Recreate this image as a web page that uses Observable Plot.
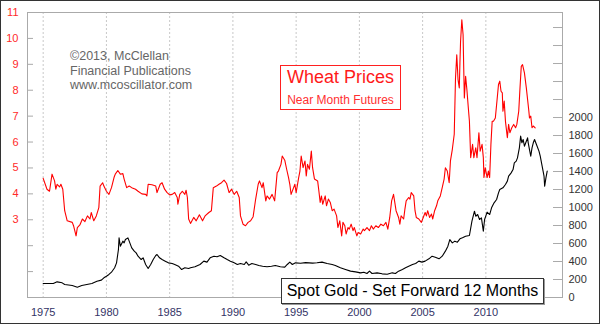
<!DOCTYPE html>
<html>
<head>
<meta charset="utf-8">
<script src="https://cdn.jsdelivr.net/npm/d3@7"></script>
<script src="https://cdn.jsdelivr.net/npm/@observablehq/plot@0.6"></script>
<style>
  html, body { margin: 0; padding: 0; background: white; }
  #wrap { position: relative; width: 600px; height: 324px; overflow: hidden; font-family: "Liberation Sans", Arial, sans-serif; }
  #border { position: absolute; left: 0; top: 0; width: 600px; height: 324px; box-sizing: border-box; border: 1px solid #333; pointer-events: none; }
  .note { position: absolute; left: 70px; top: 49px; font-size: 12.5px; line-height: 14.5px; color: #666; white-space: nowrap; }
  .wbox { position: absolute; left: 280px; top: 65px; width: 121px; height: 45px; box-sizing: border-box; border: 1px solid #ff2020; background: white; color: #ff1a1a; text-align: center; white-space: nowrap; }
  .wbox .t1 { font-size: 18px; line-height: 20px; margin-top: 1px; }
  .wbox .t2 { font-size: 12px; line-height: 20px; margin-top: 3px; color: #ff3030; }
  .gbox { position: absolute; left: 281px; top: 278px; width: 263px; height: 26px; box-sizing: border-box; border: 1px solid #333; box-shadow: 1px 1px 0 #999; background: white; color: #000; text-align: center; font-size: 16px; line-height: 24px; white-space: nowrap; }
</style>
</head>
<body>
<div id="wrap">
  <div id="chart"></div>
  <div class="note">©2013, McClellan<br>Financial Publications<br>www.mcoscillator.com</div>
  <div class="wbox"><div class="t1">Wheat Prices</div><div class="t2">Near Month Futures</div></div>
  <div class="gbox">Spot Gold - Set Forward 12 Months</div>
  <div id="border"></div>
</div>
<script>
// Wheat near-month futures ($/bushel)
const wheatYear = [1975.0,1975.3,1975.5,1975.7,1975.9,1976.0,1976.1,1976.3,1976.4,1976.55,1976.7,1976.9,1977.3,1977.4,1977.6,1977.7,1977.9,1978.1,1978.3,1978.5,1978.7,1978.8,1979.0,1979.2,1979.4,1979.5,1979.7,1979.8,1980.0,1980.2,1980.4,1980.6,1980.7,1980.9,1981.1,1981.3,1981.4,1981.6,1981.8,1982.0,1982.3,1982.5,1982.8,1983.1,1983.2,1983.3,1983.6,1983.9,1984.0,1984.25,1984.4,1984.6,1984.8,1985.0,1985.2,1985.4,1985.6,1985.65,1985.8,1986.0,1986.2,1986.3,1986.4,1986.5,1986.65,1986.9,1987.1,1987.35,1987.6,1987.8,1988.1,1988.3,1988.45,1988.7,1988.9,1989.1,1989.3,1989.5,1989.7,1989.9,1990.1,1990.3,1990.5,1990.6,1990.8,1991.0,1991.2,1991.4,1991.6,1991.8,1992.0,1992.1,1992.3,1992.4,1992.6,1992.7,1992.9,1993.1,1993.3,1993.5,1993.6,1993.8,1993.9,1994.1,1994.25,1994.4,1994.5,1994.6,1994.8,1994.9,1995.0,1995.2,1995.3,1995.4,1995.55,1995.7,1995.8,1995.9,1996.05,1996.2,1996.3,1996.45,1996.7,1996.8,1996.9,1997.0,1997.1,1997.3,1997.4,1997.55,1997.7,1997.85,1998.0,1998.2,1998.3,1998.45,1998.6,1998.7,1998.85,1998.95,1999.1,1999.2,1999.35,1999.5,1999.6,1999.8,1999.9,2000.1,2000.3,2000.4,2000.6,2000.8,2000.95,2001.1,2001.3,2001.5,2001.7,2001.9,2002.1,2002.25,2002.4,2002.55,2002.7,2002.8,2002.9,2003.1,2003.2,2003.3,2003.5,2003.6,2003.7,2003.9,2004.0,2004.1,2004.3,2004.4,2004.5,2004.7,2004.9,2005.05,2005.2,2005.3,2005.4,2005.55,2005.7,2005.8,2005.95,2006.1,2006.2,2006.4,2006.55,2006.7,2006.8,2006.95,2007.1,2007.2,2007.35,2007.5,2007.6,2007.7,2007.8,2007.9,2007.95,2008.0,2008.1,2008.2,2008.25,2008.3,2008.4,2008.5,2008.6,2008.7,2008.8,2008.95,2009.05,2009.2,2009.3,2009.45,2009.55,2009.7,2009.8,2009.85,2009.95,2010.1,2010.2,2010.3,2010.4,2010.5,2010.6,2010.75,2010.9,2011.0,2011.1,2011.2,2011.3,2011.35,2011.45,2011.55,2011.7,2011.8,2011.9,2012.05,2012.2,2012.35,2012.45,2012.6,2012.7,2012.8,2012.9,2013.05,2013.2,2013.3,2013.4,2013.45,2013.55,2013.65,2013.75,2013.9];
const wheatPrice = [4.6,4.18,4.1,4.76,4.5,4.18,4.37,4.27,4.37,4.18,3.35,2.96,2.9,2.77,2.38,2.7,2.8,3.03,2.93,3.15,3.03,3.28,2.96,3.15,3.47,4.3,4.43,4.3,4.1,3.98,4.24,4.63,4.76,4.9,4.76,4.78,4.57,4.24,4.3,4.24,4.18,4.1,4.0,3.98,3.92,4.37,4.35,4.3,4.05,4.37,4.43,4.18,4.05,3.96,3.98,4.05,3.86,3.6,3.98,4.1,3.98,4.14,3.86,3.03,2.86,3.09,2.96,3.19,2.96,3.15,3.28,3.35,4.24,4.3,4.37,4.43,4.53,4.4,4.05,4.18,3.98,4.1,3.86,3.15,2.83,2.77,2.9,2.96,3.12,3.8,4.37,4.5,4.24,4.43,3.73,3.92,3.8,3.98,3.73,4.82,4.88,5.14,5.46,5.3,4.95,4.63,4.37,3.98,4.24,4.37,4.05,4.63,4.88,5.46,5.01,5.27,4.69,5.14,4.95,5.65,5.01,4.57,4.5,4.1,3.67,3.92,3.6,3.92,3.54,3.8,3.67,3.35,3.41,3.15,2.7,2.96,2.38,2.9,2.77,2.45,2.7,2.64,2.83,2.58,2.7,2.38,2.51,2.45,2.64,2.58,2.7,2.58,2.77,2.64,2.77,2.7,2.83,2.77,2.9,2.64,3.09,3.73,3.98,3.67,3.35,3.09,2.83,3.15,3.03,3.41,3.73,3.86,3.8,4.05,3.92,3.35,3.09,3.03,2.9,3.09,3.28,3.15,3.35,3.09,3.22,3.03,3.35,3.54,3.73,3.92,4.24,4.57,5.01,4.88,4.43,5.27,5.72,6.3,8.47,9.37,8.41,8.09,9.05,9.88,10.72,10.14,8.86,7.7,8.54,8.03,7.4,6.8,5.4,5.91,5.4,5.78,5.4,6.36,5.65,5.91,5.4,4.63,5.01,4.63,4.88,4.63,5.91,6.8,6.8,6.93,7.7,8.22,8.35,7.96,7.9,7.19,7.58,6.8,6.17,6.68,6.36,6.55,6.68,6.55,6.68,7.19,8.09,8.92,8.99,8.67,8.09,7.64,7.19,6.93,7.0,6.55,6.62,6.55];

// Spot gold ($/oz), shifted forward 12 months
const goldYear = [1975.0,1975.8,1976.1,1976.5,1976.7,1977.3,1977.7,1978.05,1978.45,1978.85,1979.25,1979.6,1979.8,1980.0,1980.2,1980.4,1980.65,1980.8,1980.95,1981.0,1981.1,1981.3,1981.4,1981.5,1981.7,1981.8,1982.0,1982.2,1982.35,1982.5,1982.75,1982.9,1983.1,1983.3,1983.5,1983.7,1983.9,1984.0,1984.2,1984.4,1984.65,1984.9,1985.2,1985.4,1985.7,1985.95,1986.2,1986.5,1986.65,1987.0,1987.4,1987.7,1987.95,1988.2,1988.5,1988.75,1989.0,1989.3,1989.55,1989.8,1990.1,1990.35,1990.6,1990.9,1991.05,1991.25,1991.5,1991.8,1992.05,1992.35,1992.7,1993.05,1993.35,1993.75,1994.1,1994.3,1994.5,1994.7,1994.95,1995.35,1995.75,1996.3,1996.65,1997.05,1997.45,1997.85,1998.1,1998.5,1998.9,1999.3,1999.7,2000.1,2000.35,2000.6,2000.8,2001.0,2001.4,2001.8,2002.2,2002.6,2002.85,2003.1,2003.4,2003.65,2003.9,2004.2,2004.45,2004.7,2004.95,2005.2,2005.5,2005.75,2006.0,2006.3,2006.55,2006.8,2007.0,2007.15,2007.35,2007.55,2007.75,2007.95,2008.15,2008.4,2008.7,2008.9,2009.1,2009.2,2009.35,2009.5,2009.65,2009.8,2009.9,2010.1,2010.3,2010.45,2010.65,2010.85,2011.0,2011.1,2011.35,2011.55,2011.7,2011.8,2012.0,2012.15,2012.25,2012.4,2012.5,2012.65,2012.75,2012.85,2012.95,2013.05,2013.2,2013.3,2013.35,2013.45,2013.55,2013.65,2013.75,2013.85,2014.0,2014.2,2014.3,2014.45,2014.6,2014.65,2014.75,2014.85];
const goldPrice = [156,156,174,163,144,133,115,133,144,156,181,193,219,237,256,281,330,385,533,663,570,626,607,644,663,626,552,515,496,459,422,441,367,322,367,422,467,478,441,422,404,385,378,367,348,311,330,322,330,341,367,404,393,441,459,452,467,441,422,404,385,367,378,367,396,359,378,367,356,348,341,348,356,341,337,367,393,367,385,380,388,382,386,393,378,367,356,330,311,293,285,274,281,267,293,267,274,263,259,274,267,293,311,330,348,367,378,404,393,404,430,459,448,430,459,515,570,644,607,626,615,652,663,681,689,848,959,903,922,867,885,737,867,948,922,996,1052,1089,1163,1200,1219,1256,1293,1348,1385,1422,1496,1515,1552,1663,1793,1719,1756,1681,1737,1774,1719,1644,1570,1663,1719,1756,1700,1626,1570,1459,1348,1237,1330,1404];

// Axes
const yearTicks = [1975, 1980, 1985, 1990, 1995, 2000, 2005, 2010];
const wheatTickMarks = [1,2,3,4,5,6,7,8,9,10,11];
const wheatTickLabels = [3,4,5,6,7,8,9,10,11];
const goldTickMarks = d3.range(0, 3001, 200);
const goldTickLabels = d3.range(0, 2001, 200);

const WHEAT_MAX = 11;
const GOLD_MAX = 3167;           // gold value at the top of the frame
const k = WHEAT_MAX / GOLD_MAX;  // gold -> shared y scale

const wheat = wheatYear.map((x, i) => ({x, v: wheatPrice[i]}));
const gold = goldYear.map((x, i) => ({x, v: goldPrice[i] * k}));

const chart = Plot.plot({
  width: 600,
  height: 324,
  marginLeft: 27,
  marginRight: 38,
  marginTop: 12,
  marginBottom: 27,
  style: {fontFamily: "'Liberation Sans', Arial, sans-serif", fontSize: "11px", background: "transparent"},
  x: {domain: [1973.76, 2016.06], axis: null},
  y: {domain: [0, WHEAT_MAX], axis: null},
  marks: [
    Plot.ruleX(yearTicks, {stroke: "#c8c8c8", strokeDasharray: "2,2"}),
    Plot.tickY(wheatTickMarks, {y: d => d, insetRight: 529, stroke: "#aaa"}),
    Plot.tickY(goldTickMarks.map(g => g * k), {y: d => d, insetLeft: 526, stroke: "#aaa"}),
    Plot.frame({stroke: "#aaa"}),
    Plot.line(gold, {x: "x", y: "v", stroke: "#000", strokeWidth: 1.1}),
    Plot.line(wheat, {x: "x", y: "v", stroke: "#ff0000", strokeWidth: 1.1}),
    Plot.axisY(wheatTickLabels, {anchor: "left", tickSize: 0, tickPadding: 9, color: "#ff2a2a", label: null, fontSize: 11}),
    Plot.axisY(goldTickLabels.map(g => g * k), {anchor: "right", tickSize: 0, tickPadding: 6, color: "#333", label: null, fontSize: 11, tickFormat: d => String(Math.round(d / k))}),
    Plot.axisX(yearTicks, {anchor: "bottom", tickSize: 0, tickPadding: 11, color: "#333366", label: null, fontSize: 11, tickFormat: d => String(d)})
  ]
});
document.getElementById("chart").appendChild(chart);
</script>
</body>
</html>
